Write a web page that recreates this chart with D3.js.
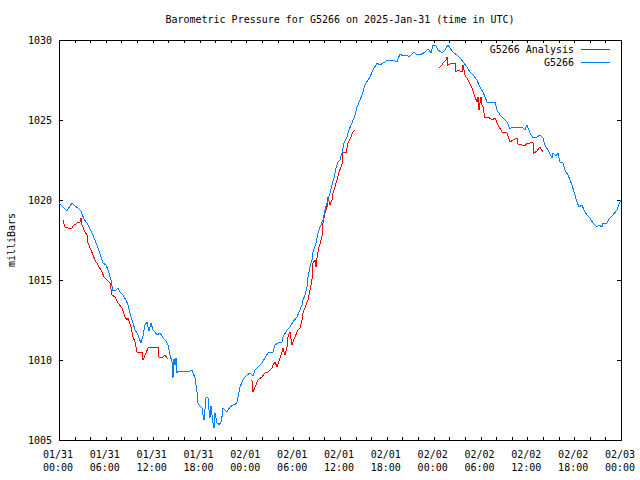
<!DOCTYPE html>
<html>
<head>
<meta charset="utf-8">
<script src="https://cdn.jsdelivr.net/npm/d3@7"></script>
<style>
  html, body { margin: 0; padding: 0; background: #fff; }
  svg text { font-family: "DejaVu Sans Mono", "Liberation Mono", monospace; font-size: 10px; fill: #000; }
</style>
</head>
<body>
<svg id="chart" width="640" height="480"></svg>
<script>
// ---- data (hours since 2025-01-31 00:00 UTC, pressure in mb) ----
const title = "Barometric Pressure for G5266 on 2025-Jan-31 (time in UTC)";
const yLabel = "milliBars";
const seriesNames = ["G5266 Analysis", "G5266"];
const yTicks = [1005, 1010, 1015, 1020, 1025, 1030];
const xTickLabels = [
  ["01/31","00:00"],["01/31","06:00"],["01/31","12:00"],["01/31","18:00"],
  ["02/01","00:00"],["02/01","06:00"],["02/01","12:00"],["02/01","18:00"],
  ["02/02","00:00"],["02/02","06:00"],["02/02","12:00"],["02/02","18:00"],
  ["02/03","00:00"]
];

const obsHours = [
  0.00,0.51,1.02,1.41,1.67,2.05,2.43,2.82,3.20,3.59,4.23,4.61,5.00,5.38,5.64,6.02,6.28,6.66,6.92,7.30,
  7.56,7.81,8.20,8.58,8.84,9.22,9.48,9.74,10.12,10.50,10.76,11.02,11.27,11.53,11.79,12.04,12.30,12.55,12.94,13.32,
  13.71,13.96,14.22,14.48,14.60,14.73,14.86,14.99,15.12,15.24,15.76,16.14,16.53,17.04,17.17,17.42,17.68,17.74,17.93,18.32,
  18.45,18.58,18.83,19.09,19.22,19.34,19.47,19.73,19.86,19.98,20.24,20.37,20.50,20.75,20.88,21.01,21.27,21.52,21.65,21.91,
  22.29,22.55,22.80,22.93,23.19,23.44,23.70,24.08,24.47,24.85,25.11,25.49,26.01,26.39,26.77,27.41,27.67,28.06,28.57,28.70,
  29.21,29.59,29.98,30.49,30.87,31.13,31.26,31.51,31.77,31.90,32.15,32.41,32.54,32.92,33.18,33.44,33.82,34.08,34.33,34.72,
  34.97,35.23,35.49,35.74,36.00,36.25,36.51,36.89,37.15,37.53,37.92,38.18,38.56,38.82,39.20,39.58,39.84,40.23,40.74,41.12,
  41.51,42.15,42.79,43.30,43.68,44.07,44.58,44.84,45.22,45.48,45.86,46.50,46.89,47.27,47.66,47.91,48.30,48.55,49.06,49.45,
  49.83,50.09,50.47,50.99,51.37,51.76,52.27,52.65,53.04,53.55,53.93,54.32,54.57,54.83,55.21,55.86,56.11,56.50,56.88,57.39,
  57.78,58.03,58.67,59.31,59.70,59.95,60.34,60.72,61.23,61.62,62.00,62.26,62.64,63.16,63.29,63.67,63.93,64.18,64.57,64.82,
  65.21,65.47,65.72,65.98,66.36,66.62,67.00,67.26,67.64,68.02,68.41,68.92,69.17,69.56,69.69,70.20,70.57,70.96,71.48,71.86,
  72.00
];
const obsValues = [
  1019.81,1019.56,1019.31,1019.63,1019.81,1019.63,1019.50,1019.31,1018.81,1018.56,1017.94,1017.50,1017.00,1016.44,1016.06,1015.94,1015.63,1015.00,1014.31,1014.38,
  1014.50,1014.25,1014.06,1013.75,1013.44,1012.69,1012.31,1011.88,1011.56,1011.06,1011.50,1012.19,1012.38,1011.81,1012.31,1011.88,1011.75,1011.56,1011.69,1011.38,
  1011.19,1010.94,1010.31,1009.88,1008.88,1010.06,1009.69,1010.13,1009.19,1009.31,1009.25,1009.31,1009.25,1009.38,1009.19,1008.88,1008.00,1007.38,1007.19,1007.00,
  1006.56,1006.25,1007.63,1007.63,1006.88,1006.38,1007.13,1006.06,1005.75,1006.69,1006.06,1006.06,1005.94,1006.13,1006.44,1007.00,1006.88,1006.75,1006.88,1007.06,
  1007.19,1007.19,1007.38,1007.69,1008.31,1008.63,1008.88,1009.06,1009.19,1009.00,1009.38,1009.56,1009.81,1010.13,1010.44,1010.50,1010.94,1011.06,1011.13,1011.44,
  1011.88,1012.06,1012.38,1012.69,1013.13,1013.44,1013.75,1014.06,1014.56,1015.19,1015.81,1016.25,1016.75,1017.31,1017.94,1018.31,1018.75,1019.38,1019.81,1020.44,
  1020.94,1021.38,1022.00,1022.38,1022.50,1022.94,1023.56,1023.94,1024.38,1024.81,1025.31,1025.81,1026.25,1026.56,1027.19,1027.50,1027.69,1028.13,1028.56,1028.44,
  1028.56,1028.75,1028.75,1028.63,1029.13,1029.00,1029.06,1028.94,1029.13,1029.25,1029.06,1029.13,1029.25,1029.44,1029.19,1029.69,1029.63,1029.38,1029.19,1029.38,
  1029.69,1029.50,1029.25,1029.06,1028.88,1028.63,1028.31,1028.00,1027.81,1027.50,1027.06,1026.75,1026.44,1026.13,1026.06,1026.13,1025.63,1025.31,1025.13,1024.88,
  1024.44,1024.56,1024.50,1024.56,1024.38,1024.69,1024.19,1023.88,1023.94,1024.06,1023.88,1023.44,1023.13,1022.63,1022.94,1022.75,1022.94,1022.38,1022.31,1021.88,
  1021.56,1021.25,1020.94,1020.50,1019.88,1019.56,1019.69,1019.38,1019.06,1018.88,1018.56,1018.31,1018.44,1018.31,1018.56,1018.56,1018.88,1019.06,1019.38,1019.88,
  1020.00
];

// analysis series; null marks a gap in the record
const anaHours = [
  0.51,0.77,1.15,1.67,1.79,2.31,2.69,2.82,2.95,3.33,3.59,3.72,4.10,4.36,4.61,5.00,5.51,5.76,6.15,6.53,
  6.79,7.17,7.56,8.07,8.46,8.71,8.84,9.22,9.48,9.74,9.99,10.63,10.76,11.15,11.40,11.91,12.68,12.81,13.19,13.58,
  13.96,19.00,
  24.72,24.85,25.11,25.49,26.01,26.39,26.77,27.29,27.41,27.67,27.93,28.31,28.57,28.70,28.95,29.21,29.34,29.59,29.85,29.98,
  30.23,30.62,30.87,31.13,31.26,31.51,31.77,31.90,32.15,32.41,32.54,32.80,32.92,33.05,33.31,33.69,33.82,34.08,34.33,34.46,
  34.72,34.97,35.10,35.36,35.61,35.87,36.25,36.38,36.77,37.02,37.41,37.66,37.92,43.00,
  48.68,49.06,49.32,49.58,49.71,49.83,50.35,50.73,50.86,51.11,51.63,51.76,52.01,52.40,52.91,53.29,53.55,53.68,53.81,54.06,
  54.19,54.32,54.57,54.96,55.47,55.86,56.24,56.75,57.39,57.78,58.16,58.67,58.80,59.31,59.70,59.95,60.34,60.72,60.85,61.23,
  61.62,62.00
];
const anaValues = [
  1018.75,1018.31,1018.25,1018.25,1018.38,1018.56,1018.63,1018.88,1018.44,1018.00,1017.81,1017.31,1016.88,1016.56,1016.25,1015.94,1015.50,1015.19,1015.00,1014.81,
  1014.06,1013.94,1013.56,1013.25,1012.69,1012.50,1012.63,1012.06,1011.44,1011.13,1010.50,1010.50,1010.00,1010.44,1010.75,1010.81,1010.81,1010.19,1010.13,1010.31,
  1010.06,null,
  1008.75,1008.00,1008.31,1008.75,1008.94,1009.19,1009.25,1009.50,1009.69,1009.88,1009.56,1010.13,1010.50,1010.75,1010.31,1010.81,1011.44,1011.75,1010.94,1011.13,
  1011.44,1011.88,1012.00,1012.50,1012.94,1013.25,1013.63,1013.75,1014.38,1015.00,1016.06,1016.25,1015.81,1016.38,1017.06,1017.69,1018.56,1019.19,1019.56,1020.19,
  1019.69,1020.00,1020.44,1020.81,1021.25,1021.75,1022.19,1022.94,1022.94,1023.56,1023.94,1024.25,1024.38,null,
  1028.25,1028.44,1028.63,1028.75,1028.94,1028.44,1028.56,1028.56,1028.00,1028.13,1028.00,1028.44,1027.81,1027.50,1027.00,1026.44,1026.13,1026.44,1025.63,1026.44,
  1025.94,1025.81,1025.13,1025.19,1025.00,1025.13,1024.69,1024.25,1024.19,1023.63,1023.75,1023.88,1023.50,1023.44,1023.38,1023.56,1023.56,1023.63,1022.94,1023.06,
  1023.31,1023.00
];

const colors = ["#ff0000", "#0080ff"];

// ---- chart ----
const svg = d3.select("#chart");
const m = { left: 59, right: 621, top: 40, bottom: 440 };

const x = d3.scaleLinear().domain([0, 72]).range([m.left, m.right]);
const y = d3.scaleLinear().domain([1005, 1030]).range([m.bottom, m.top]);

const tickHours = d3.range(0, 73, 2);
const labelHours = d3.range(0, 73, 6);

// border
svg.append("rect")
  .attr("x", m.left + 0.5).attr("y", m.top + 0.5)
  .attr("width", m.right - m.left).attr("height", m.bottom - m.top)
  .attr("fill", "none").attr("stroke", "#000").attr("stroke-width", 1)
  .attr("shape-rendering", "crispEdges");

const tickLen = 3;
// x ticks bottom and top
const xt = svg.append("g").attr("shape-rendering", "crispEdges").attr("stroke", "#000");
tickHours.forEach(h => {
  const px = Math.round(x(h)) + 0.5;
  xt.append("line").attr("x1", px).attr("x2", px).attr("y1", m.bottom).attr("y2", m.bottom - tickLen);
  xt.append("line").attr("x1", px).attr("x2", px).attr("y1", m.top).attr("y2", m.top + tickLen);
});
// y ticks left and right
yTicks.forEach(v => {
  const py = Math.round(y(v)) + 0.5;
  xt.append("line").attr("x1", m.left).attr("x2", m.left + tickLen + 1).attr("y1", py).attr("y2", py);
  xt.append("line").attr("x1", m.right).attr("x2", m.right - tickLen - 1).attr("y1", py).attr("y2", py);
});

// y tick labels
svg.append("g").selectAll("text").data(yTicks).join("text")
  .attr("x", 52).attr("y", d => y(d)).attr("dy", "0.35em")
  .attr("text-anchor", "end").text(d => d);

// x tick labels
const xl = svg.append("g");
labelHours.forEach((h, i) => {
  const t = xl.append("text").attr("text-anchor", "middle");
  t.append("tspan").attr("x", x(h) - 1).attr("y", 458).text(xTickLabels[i][0]);
  t.append("tspan").attr("x", x(h) - 1).attr("y", 471).text(xTickLabels[i][1]);
});

// title
svg.append("text").attr("x", 340).attr("y", 23).attr("text-anchor", "middle").text(title);

// y label
svg.append("text").attr("transform", "translate(15,240) rotate(-90)")
  .attr("text-anchor", "middle").text(yLabel);

// lines
const lineGen = d3.line()
  .defined(d => d[1] !== null)
  .x(d => x(d[0])).y(d => y(d[1]));

const anaData = anaHours.map((h, i) => [h, anaValues[i]]);
const obsData = obsHours.map((h, i) => [h, obsValues[i]]);

svg.append("path").datum(anaData).attr("d", lineGen)
  .attr("fill", "none").attr("stroke", colors[0]).attr("stroke-width", 1)
  .attr("shape-rendering", "crispEdges");
svg.append("path").datum(obsData).attr("d", lineGen)
  .attr("fill", "none").attr("stroke", colors[1]).attr("stroke-width", 1)
  .attr("shape-rendering", "crispEdges");

// legend
const lg = svg.append("g");
seriesNames.forEach((name, i) => {
  const ly = 49 + i * 13;
  lg.append("text").attr("x", 574).attr("y", ly).attr("dy", "0.35em")
    .attr("text-anchor", "end").text(name);
  lg.append("line").attr("x1", 581).attr("x2", 610)
    .attr("y1", Math.round(ly) + 0.5).attr("y2", Math.round(ly) + 0.5)
    .attr("stroke", colors[i]).attr("stroke-width", 1).attr("shape-rendering", "crispEdges");
});
</script>
</body>
</html>
